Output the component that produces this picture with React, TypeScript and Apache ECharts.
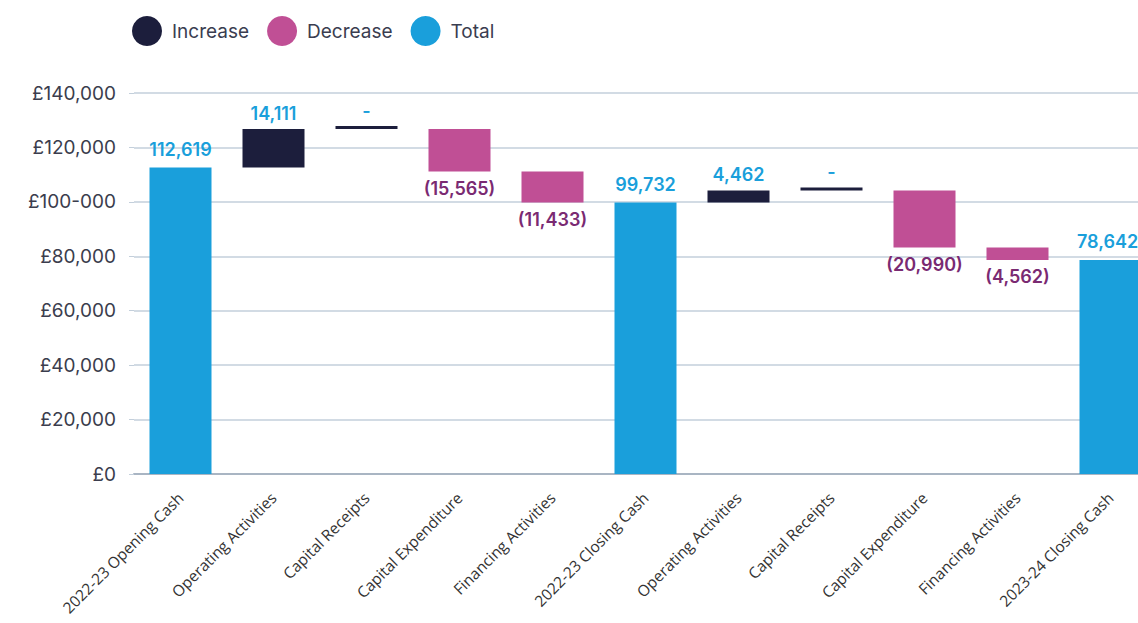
import React, { useEffect, useRef } from "react";
import * as echarts from "echarts";

const categories: string[] = [
  "2022-23 Opening Cash",
  "Operating Activities",
  "Capital Receipts",
  "Capital Expenditure",
  "Financing Activities",
  "2022-23 Closing Cash",
  "Operating Activities",
  "Capital Receipts",
  "Capital Expenditure",
  "Financing Activities",
  "2023-24 Closing Cash",
];
const kinds: string[] = [
  "total", "change", "change", "change", "change",
  "total", "change", "change", "change", "change", "total",
];
const values: number[] = [112619, 14111, 0, -15565, -11433, 99732, 4462, 0, -20990, -4562, 78642];

const yTickValues: number[] = [0, 20000, 40000, 60000, 80000, 100000, 120000, 140000];
const yTickLabels: string[] = ["£0", "£20,000", "£40,000", "£60,000", "£80,000", "£100-000", "£120,000", "£140,000"];

const legendNames: string[] = ["Increase", "Decrease", "Total"];

const COLORS = {
  increase: "#1c1e3c",
  decrease: "#c04f95",
  total: "#1a9fdb",
  labelBlue: "#1a9fdb",
  labelPurple: "#7a2a72",
};

const fmt = (v: number) => Math.round(v).toLocaleString("en-GB");

export default function App() {
  const ref = useRef<HTMLDivElement>(null);

  useEffect(() => {
    document.body.style.margin = "0";
    if (!ref.current) return;
    const chart = echarts.init(ref.current, null, { renderer: "svg" });

    // Build waterfall helper data from the value arrays
    const base: any[] = [];
    const inc: any[] = [];
    const dec: any[] = [];
    const tot: any[] = [];
    let running = 0;
    const lastIdx = values.length - 1;
    values.forEach((v, i) => {
      if (kinds[i] === "total") {
        running = v;
        base.push("-");
        inc.push("-");
        dec.push("-");
        // keep the right-most label inside the canvas
        tot.push(i === lastIdx ? { value: v, label: { offset: [-3, 0] } } : v);
      } else if (v >= 0) {
        base.push(running);
        inc.push(v);
        dec.push("-");
        tot.push("-");
        running += v;
      } else {
        running += v;
        base.push(running);
        inc.push("-");
        dec.push(-v);
        tot.push("-");
      }
    });

    const labelFont = {
      fontFamily: "Inter",
      fontSize: 18,
      fontWeight: 600 as any,
    };

    chart.setOption({
      animation: false,
      legend: {
        data: legendNames.map((n) => ({ name: n, icon: "circle" })),
        left: 127,
        top: 11,
        itemWidth: 30,
        itemHeight: 30,
        itemGap: 18,
        textStyle: {
          fontFamily: "Inter",
          fontSize: 19,
          color: "#3a3d50",
          padding: [0, 0, 0, 5],
        },
        selectedMode: false,
      },
      grid: {
        left: 134,
        right: -19,
        top: 93,
        bottom: 149,
        containLabel: false,
        outerBoundsMode: "none",
      },
      xAxis: {
        type: "category",
        data: categories,
        axisTick: { show: false },
        axisLine: { lineStyle: { color: "#a9b5c3", width: 2 } },
        axisLabel: {
          interval: 0,
          rotate: 45,
          margin: 21,
          fontFamily: "Open Sans",
          fontSize: 15.5,
          color: "#333333",
        },
      },
      yAxis: {
        type: "value",
        min: 0,
        max: 140000,
        interval: 20000,
        axisLine: { show: false },
        axisTick: { show: true, length: 5, lineStyle: { color: "#c3cfdb" } },
        splitLine: { lineStyle: { color: "#c3cfdb", width: 1.5 } },
        axisLabel: {
          margin: 18,
          fontFamily: "Inter",
          fontSize: 19,
          color: "#3b3d4d",
          formatter: (v: number) => {
            const idx = yTickValues.indexOf(v);
            return idx >= 0 ? yTickLabels[idx] : "";
          },
        },
      },
      series: [
        {
          name: "base",
          type: "bar",
          stack: "w",
          data: base,
          barWidth: 62,
          itemStyle: { color: "transparent" },
          silent: true,
          label: { show: false },
        },
        {
          name: "Increase",
          type: "bar",
          stack: "w",
          data: inc,
          barWidth: 62,
          barMinHeight: 3,
          itemStyle: { color: COLORS.increase },
          label: {
            show: true,
            position: "top",
            distance: 7,
            color: COLORS.labelBlue,
            ...labelFont,
            formatter: (p: any) => (p.value === 0 ? "-" : fmt(p.value)),
          },
        },
        {
          name: "Decrease",
          type: "bar",
          stack: "w",
          data: dec,
          barWidth: 62,
          itemStyle: { color: COLORS.decrease },
          label: {
            show: true,
            position: "bottom",
            distance: 8,
            color: COLORS.labelPurple,
            ...labelFont,
            formatter: (p: any) => `(${fmt(p.value)})`,
          },
        },
        {
          name: "Total",
          type: "bar",
          stack: "w",
          data: tot,
          barWidth: 62,
          itemStyle: { color: COLORS.total },
          label: {
            show: true,
            position: "top",
            distance: 9,
            color: COLORS.labelBlue,
            ...labelFont,
            formatter: (p: any) => fmt(p.value),
          },
        },
      ],
    });

    return () => {
      chart.dispose();
    };
  }, []);

  return <div ref={ref} style={{ width: 1138, height: 623 }} />;
}
